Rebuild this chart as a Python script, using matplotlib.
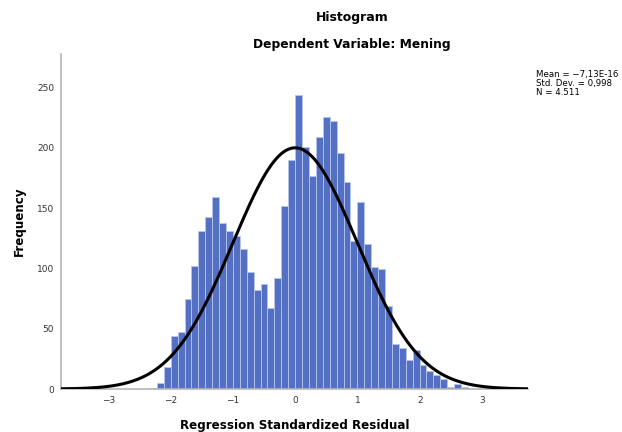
import numpy as np
import matplotlib
matplotlib.use("Agg")
import matplotlib.pyplot as plt

# Residual histogram counts, bins of equal width starting at -21 * width
bin_width = 0.111
first_bin = -21
counts = [1, 5, 18, 44, 47, 75, 102, 131, 143, 159, 138, 131, 127, 116, 97,
          82, 87, 67, 92, 152, 190, 244, 201, 177, 209, 226, 222, 196, 172,
          123, 155, 120, 101, 100, 69, 37, 34, 24, 32, 20, 15, 12, 8, 2, 4, 2]

mean = -7.13e-16
std_dev = 0.998
n_obs = 4511

y_ticks = [0, 50, 100, 150, 200, 250]
x_ticks = [-3, -2, -1, 0, 1, 2, 3]

fig = plt.figure(figsize=(6.22, 4.32), dpi=100)
ax = fig.add_axes([0.098, 0.0995, 0.751, 0.7755])

edges = (first_bin + np.arange(len(counts))) * bin_width
ax.bar(edges, counts, width=bin_width, align="edge",
       color="#5470c4", edgecolor="#b8c6ec", linewidth=0.6, zorder=2)

# Normal curve scaled to the histogram
xs = np.linspace(-3.76, 3.74, 400)
pdf = np.exp(-0.5 * ((xs - mean) / std_dev) ** 2) / (std_dev * np.sqrt(2 * np.pi))
ax.plot(xs, pdf * n_obs * bin_width, color="black", linewidth=2.2, zorder=3)

ax.set_xlim(-3.76, 3.74)
ax.set_ylim(0, 278)
ax.set_xticks(x_ticks)
ax.set_xticklabels([str(t).replace("-", "\u2212") for t in x_ticks])
ax.set_yticks(y_ticks)
ax.tick_params(length=0, labelsize=6.5, colors="#333333", pad=5)

for side in ["top", "right"]:
    ax.spines[side].set_visible(False)
for side in ["left", "bottom"]:
    ax.spines[side].set_color("#b5b5b5")
    ax.spines[side].set_linewidth(1.2)

ax.set_xlabel("Regression Standardized Residual", fontsize=8.6,
              fontweight="bold", labelpad=10)
ax.set_ylabel("Frequency", fontsize=8.6, fontweight="bold", labelpad=8)

fig.text(0.566, 0.96, "Histogram", ha="center", va="center",
         fontsize=9, fontweight="bold")
fig.text(0.566, 0.898, "Dependent Variable: Mening", ha="center",
         va="center", fontsize=8.8, fontweight="bold")

fig.text(0.862, 0.837,
         "Mean = \u22127,13E-16\nStd. Dev. = 0,998\nN = 4.511",
         ha="left", va="top", fontsize=6.2, linespacing=0.95)

fig.savefig("out.png", dpi=100)
